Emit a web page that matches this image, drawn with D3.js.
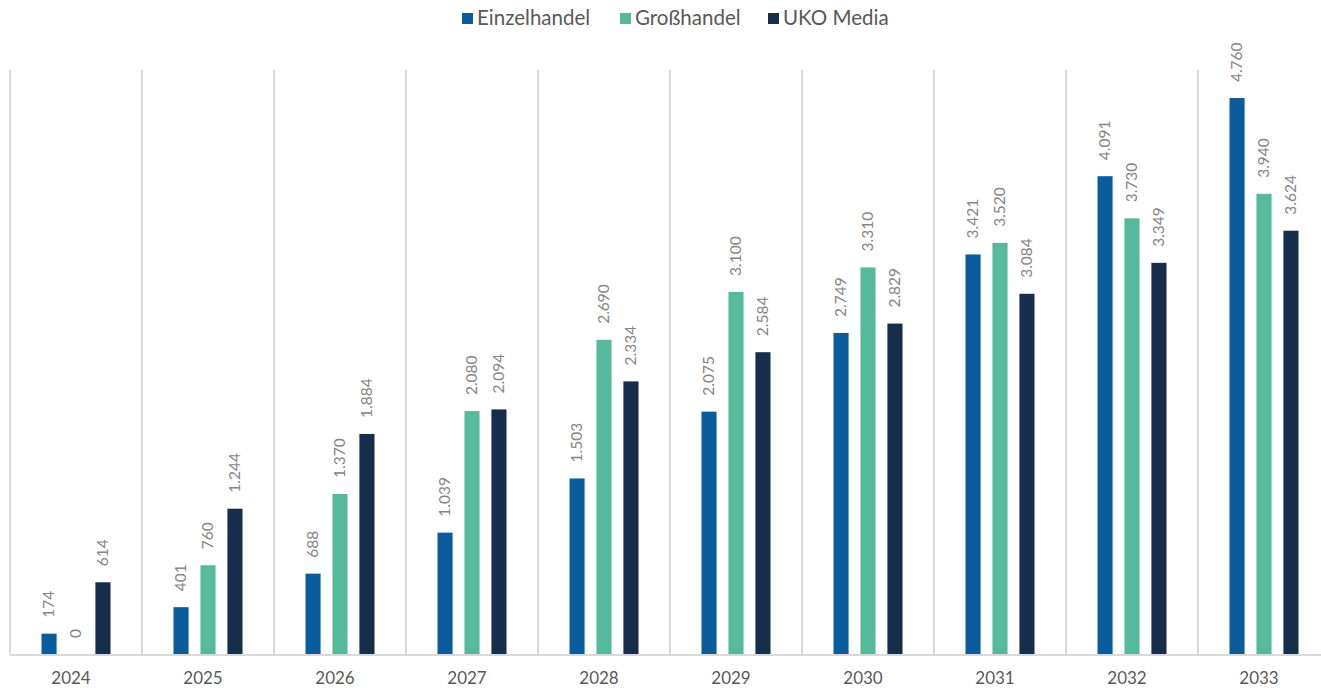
<!DOCTYPE html>
<html>
<head>
<meta charset="utf-8">
<script src="https://cdn.jsdelivr.net/npm/d3@7"></script>
<style>
  body { margin: 0; background: #fff; }
  svg { display: block; font-family: "Lato", "Noto Sans", sans-serif; }
</style>
</head>
<body>
<div id="chart"></div>
<script>
// chart data
const years = ["2024", "2025", "2026", "2027", "2028", "2029", "2030", "2031", "2032", "2033"];
const seriesNames = ["Einzelhandel", "Großhandel", "UKO Media"];
const einzelhandel = [174, 401, 688, 1039, 1503, 2075, 2749, 3421, 4091, 4760];
const grosshandel = [0, 760, 1370, 2080, 2690, 3100, 3310, 3520, 3730, 3940];
const ukoMedia = [614, 1244, 1884, 2094, 2334, 2584, 2829, 3084, 3349, 3624];
const colors = ["#0b5c9c", "#57b99b", "#162d4c"];

const width = 1321, height = 688;
const margin = { left: 10, right: -9, top: 70, bottom: 34 };

const svg = d3.select("#chart")
  .append("svg")
  .attr("width", width)
  .attr("height", height);

const x = d3.scaleBand()
  .domain(years)
  .range([margin.left, width - margin.right])
  .paddingInner(0).paddingOuter(0);

const xInner = d3.scaleBand()
  .domain(seriesNames)
  .range([x.bandwidth() / 2 - 34.5, x.bandwidth() / 2 + 34.5])
  .paddingInner(0.44).paddingOuter(0);

const y = d3.scaleLinear()
  .domain([0, 5000])
  .range([height - margin.bottom, margin.top]);

// vertical separators
svg.append("g")
  .selectAll("line")
  .data(years)
  .enter()
  .append("line")
  .attr("x1", d => x(d)).attr("x2", d => x(d))
  .attr("y1", y(5000)).attr("y2", y(0))
  .attr("stroke", "#d9d9d9")
  .attr("stroke-width", 2);

const fmt = v => d3.formatLocale({ decimal: ",", thousands: ".", grouping: [3] }).format(",")(v);

const table = years.map((yr, i) => ({
  year: yr,
  values: [einzelhandel[i], grosshandel[i], ukoMedia[i]]
}));

const groups = svg.append("g")
  .selectAll("g")
  .data(table)
  .enter()
  .append("g")
  .attr("transform", d => `translate(${x(d.year)},0)`);

groups.selectAll("rect")
  .data(d => d.values.map((v, k) => ({ name: seriesNames[k], v, k })))
  .enter()
  .append("rect")
  .attr("x", d => xInner(d.name))
  .attr("width", xInner.bandwidth())
  .attr("y", d => y(d.v))
  .attr("height", d => y(0) - y(d.v))
  .attr("fill", d => colors[d.k]);

groups.selectAll("text")
  .data(d => d.values.map((v, k) => ({ name: seriesNames[k], v, k })))
  .enter()
  .append("text")
  .attr("transform", d => `translate(${xInner(d.name) + xInner.bandwidth() / 2},${y(d.v) - 16}) rotate(-90)`)
  .attr("dy", "0.35em")
  .attr("font-size", 15.5)
  .attr("fill", "#868686")
  .text(d => fmt(d.v));

// baseline
svg.append("line")
  .attr("x1", margin.left).attr("x2", width)
  .attr("y1", y(0) + 1).attr("y2", y(0) + 1)
  .attr("stroke", "#d9d9d9")
  .attr("stroke-width", 2);

// x axis labels
svg.append("g")
  .selectAll("text")
  .data(years)
  .enter()
  .append("text")
  .attr("x", d => x(d) + x.bandwidth() / 2 - 5)
  .attr("y", 684)
  .attr("text-anchor", "middle")
  .attr("font-size", 17)
  .attr("fill", "#595959")
  .text(d => d);

// legend
const legendX = [462, 620, 768];
const legend = svg.append("g")
  .selectAll("g")
  .data(seriesNames)
  .enter()
  .append("g")
  .attr("transform", (d, i) => `translate(${legendX[i]},13)`);

legend.append("rect")
  .attr("width", 11).attr("height", 11)
  .attr("fill", (d, i) => colors[i]);

legend.append("text")
  .attr("x", 15)
  .attr("y", 12)
  .attr("font-size", 20.5)
  .attr("fill", "#595959")
  .text(d => d);
</script>
</body>
</html>
